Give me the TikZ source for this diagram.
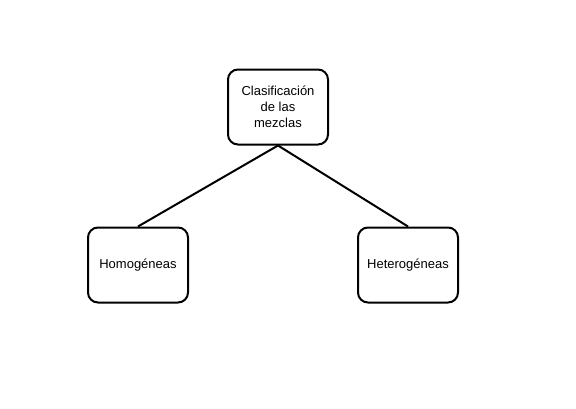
\documentclass[tikz,border=0pt]{standalone}
\usepackage{fontspec}
\setmainfont{Liberation Sans}
\usetikzlibrary{positioning}

\tikzset{
    mixbox/.style={draw, line width=2pt, rounded corners=10pt, minimum width=100pt,
        minimum height=75pt, align=center, font=\fontsize{13}{16}\selectfont},
    link/.style={line width=2pt}
}

\begin{document}
\begin{tikzpicture}[x=1pt, y=-1pt]
        \useasboundingbox[fill=white] (0, 0) rectangle (576, 408);

        \node[mixbox] (clasif) at (278, 107) {Clasificación\\de las\\mezclas};
        \node[mixbox] (homog) at (138, 265) {Homogéneas};
        \node[mixbox] (heterog) at (408, 265) {Heterogéneas};

        \draw[link] (clasif.south) -- (homog.north);
        \draw[link] (clasif.south) -- (heterog.north);
    \end{tikzpicture}
\end{document}
